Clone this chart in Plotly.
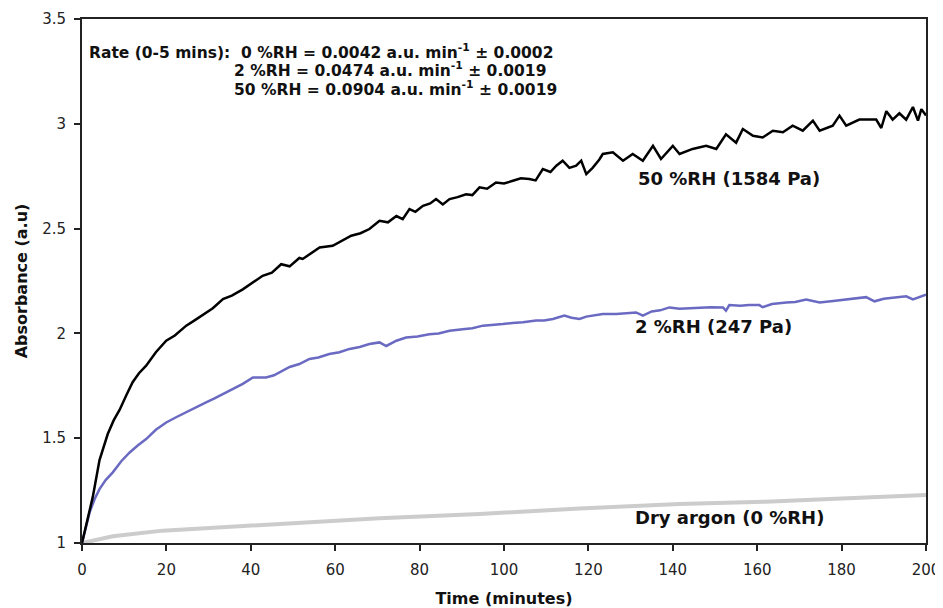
import plotly.graph_objects as go

# 50 %RH (1584 Pa)
t_50 = [0, 1, 2.56, 4.15, 6.1, 7.5, 8.9, 10.5, 12.0, 13.5, 15.2, 17.5, 19.95, 22, 24.7, 26.5, 28.6, 31, 33.4, 35.5, 38.1, 40,
        42.8, 45, 47.2, 49.2, 51.5, 52.3, 54.5, 56.3, 59.4, 61.5, 63.8, 66, 68.1, 70.5, 72.5, 74.5, 76, 77.6,
        79, 80.8, 82.5, 83.9, 85.5, 87.1, 89, 91.0, 92.5, 94.2, 96, 98.1, 100, 102.1, 104, 106.0, 107.5, 109.2,
        111, 112.4, 113.9, 115.5, 117.1, 118.3, 119.5, 121, 122.6, 123.4, 125.8, 128.2, 130.5, 132.9, 135.3,
        137.2, 140, 141.6, 144.7, 147.9, 150.3, 152.6, 155, 156.6, 159, 161.3, 163.7, 166.1, 168.4, 170.8,
        173.2, 174.8, 177.9, 179.5, 181.1, 184.2, 188.2, 189.4, 190.6, 192.1, 193.7, 195.3, 196.9, 198.1,
        198.9, 200]
a_50 = [1.0, 1.09, 1.22, 1.396, 1.52, 1.585, 1.635, 1.705, 1.767, 1.81, 1.846, 1.91, 1.965, 1.99, 2.037, 2.06, 2.09, 2.12, 2.164,
        2.18, 2.21, 2.235, 2.275, 2.29, 2.33, 2.32, 2.36, 2.355, 2.385, 2.41, 2.418, 2.44, 2.466, 2.478, 2.498,
        2.537, 2.53, 2.56, 2.545, 2.593, 2.58, 2.609, 2.62, 2.641, 2.615, 2.641, 2.65, 2.664, 2.66, 2.697, 2.69,
        2.72, 2.715, 2.728, 2.74, 2.737, 2.73, 2.784, 2.77, 2.80, 2.824, 2.79, 2.80, 2.824, 2.76, 2.79, 2.83,
        2.856, 2.864, 2.824, 2.856, 2.824, 2.895, 2.832, 2.895, 2.856, 2.88, 2.895, 2.88, 2.95, 2.91, 2.975,
        2.943, 2.935, 2.967, 2.96, 2.991, 2.967, 3.015, 2.967, 2.991, 3.039, 2.991, 3.02, 3.02, 2.98, 3.06,
        3.02, 3.05, 3.02, 3.08, 3.015, 3.07, 3.04]

# 2 %RH (247 Pa)
t_2 = [0, 0.8, 1.8, 3, 4.15, 5.6, 7.3, 9.3, 11.3, 13.2, 15.2, 17.5, 19.95, 22.3, 24.7, 27, 29.4, 31.4, 33.4,
       35.8, 38.1, 40.5, 43.6, 45.5, 47.6, 49.2, 51.5, 53.9, 56, 58.6, 61, 63.4, 65.8, 68.1, 70.5, 72.1, 74.5,
       76.8, 79.5, 82.3, 84.5, 87.1, 90.2, 92.5, 95, 97.5, 99.7, 102, 104.5, 107.6, 109.5, 111.6, 114.3, 116,
       117.9, 119.5, 121, 123.4, 126.6, 129, 131.3, 132.9, 135, 137, 139.2, 141.6, 144, 146.3, 149, 151.9,
       152.6, 153.4, 156, 158, 160.5, 161.3, 163.5, 166.9, 169, 171.6, 173.3, 174.8, 178, 181.1, 183.5, 185.8,
       187.8, 190, 192.1, 195.3, 196.9, 198.5, 200]
a_2 = [1.0, 1.07, 1.146, 1.21, 1.257, 1.30, 1.337, 1.39, 1.432, 1.465, 1.496, 1.54, 1.575, 1.60, 1.624, 1.65,
       1.671, 1.69, 1.711, 1.735, 1.759, 1.79, 1.79, 1.80, 1.822, 1.84, 1.854, 1.878, 1.885, 1.902, 1.91, 1.926,
       1.935, 1.949, 1.957, 1.94, 1.965, 1.98, 1.985, 1.996, 2.0, 2.013, 2.02, 2.025, 2.037, 2.04, 2.045, 2.05,
       2.053, 2.061, 2.062, 2.069, 2.085, 2.075, 2.069, 2.08, 2.085, 2.093, 2.093, 2.095, 2.10, 2.085, 2.105,
       2.11, 2.124, 2.118, 2.12, 2.124, 2.125, 2.124, 2.108, 2.135, 2.132, 2.135, 2.135, 2.125, 2.14, 2.147,
       2.15, 2.162, 2.155, 2.147, 2.155, 2.162, 2.165, 2.173, 2.153, 2.165, 2.17, 2.177, 2.162, 2.175, 2.185]

# Dry argon (0 %RH)
t_0 = [0, 7.3, 19.1, 38.9, 58.6, 70.5, 94.2, 117.9, 141.6, 162, 180, 200]
a_0 = [1.0, 1.032, 1.059, 1.083, 1.104, 1.118, 1.138, 1.165, 1.186, 1.197, 1.212, 1.229]

x_ticks = [0, 20, 40, 60, 80, 100, 120, 140, 160, 180, 200]
y_ticks = [1, 1.5, 2, 2.5, 3, 3.5]
y_tick_text = ["1", "1.5", "2", "2.5", "3", "3.5"]

rate_lines = [
    "Rate (0-5 mins):  0 %RH = 0.0042 a.u. min<sup>-1</sup> ± 0.0002",
    "2 %RH = 0.0474 a.u. min<sup>-1</sup> ± 0.0019",
    "50 %RH = 0.0904 a.u. min<sup>-1</sup> ± 0.0019",
]
rate_pos = [(1.2, 3.344), (35.6, 3.257), (35.6, 3.169)]
curve_labels = ["50 %RH (1584 Pa)", "2 %RH (247 Pa)", "Dry argon (0 %RH)"]
curve_label_pos = [(131.2, 2.740), (130.6, 2.035), (130.6, 1.123)]

FONT = "DejaVu Sans"

fig = go.Figure()
fig.add_trace(go.Scatter(x=t_0, y=a_0, mode="lines", line=dict(color="#cccccc", width=4),
                         name="Dry argon (0 %RH)", showlegend=False))
fig.add_trace(go.Scatter(x=t_2, y=a_2, mode="lines", line=dict(color="#6a6ac2", width=2.5),
                         name="2 %RH (247 Pa)", showlegend=False))
fig.add_trace(go.Scatter(x=t_50, y=a_50, mode="lines", line=dict(color="#000000", width=2.5),
                         name="50 %RH (1584 Pa)", showlegend=False))

annotations = []
for txt, (x, y) in zip(rate_lines, rate_pos):
    annotations.append(dict(x=x, y=y, xref="x", yref="y", text="<b>" + txt + "</b>", showarrow=False,
                            xanchor="left", yanchor="middle",
                            font=dict(family=FONT, size=15.5, color="#111")))
for txt, (x, y) in zip(curve_labels, curve_label_pos):
    annotations.append(dict(x=x, y=y, xref="x", yref="y", text="<b>" + txt + "</b>", showarrow=False,
                            xanchor="left", yanchor="middle",
                            font=dict(family=FONT, size=18, color="#111")))

# The page body has an 8 px default margin, so the figure is sized to fit the window.
fig.update_layout(
    width=935, height=600,
    margin=dict(l=74, r=17, t=11, b=65, autoexpand=False),
    paper_bgcolor="white", plot_bgcolor="white",
    annotations=annotations,
    showlegend=False,
)
fig.update_xaxes(
    range=[0, 200], tickvals=x_ticks, ticks="outside", ticklen=6, tickwidth=1.5, tickcolor="#222",
    showline=True, linecolor="#222", linewidth=2, mirror=True, showgrid=False, zeroline=False,
    automargin=True, ticklabelstandoff=6,
    tickfont=dict(family=FONT, size=15, color="#222"),
    title=dict(text="<b>Time (minutes)</b>", font=dict(family=FONT, size=16, color="#111"), standoff=17),
)
fig.update_yaxes(
    range=[1, 3.5], tickvals=y_ticks, ticktext=y_tick_text, ticks="outside", ticklen=6, tickwidth=1.5,
    tickcolor="#222", showline=True, linecolor="#222", linewidth=2, mirror=True, showgrid=False,
    zeroline=False, automargin=True, ticklabelstandoff=5, tickfont=dict(family=FONT, size=15, color="#222"),
    title=dict(text="<b>Absorbance (a.u)</b>", font=dict(family=FONT, size=16, color="#111"), standoff=11),
)

fig.write_html("out.html")
